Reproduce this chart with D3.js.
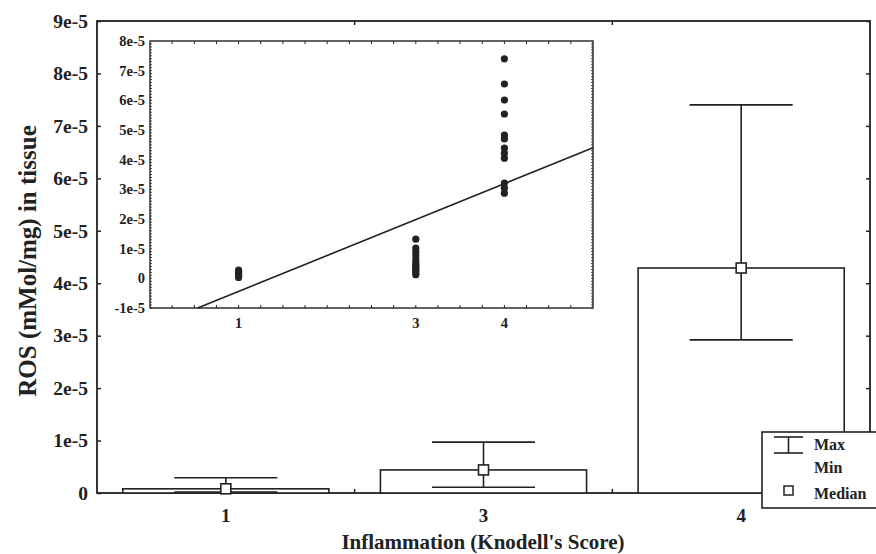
<!DOCTYPE html>
<html lang="en">
<head>
  <meta charset="UTF-8" />
  <title>ROS in tissue by Knodell's Score</title>
  <script src="https://cdn.jsdelivr.net/npm/d3@7"></script>
  <style>
    body {
      margin: 0;
      background-color: white;
    }

    svg {
      display: block;
      font-family: "Liberation Serif", "DejaVu Serif", serif;
      font-weight: bold;
    }
  </style>
</head>
<body>
  <div id="chart"></div>

  <script>
    // main chart: median / max / min per score
    const scores = ["1", "3", "4"];
    const medians = [0.08e-5, 0.44e-5, 4.29e-5];
    const maxes = [0.29e-5, 0.97e-5, 7.4e-5];
    const mins = [0.02e-5, 0.11e-5, 2.92e-5];
    const yTicks = [0, 1e-5, 2e-5, 3e-5, 4e-5, 5e-5, 6e-5, 7e-5, 8e-5, 9e-5];

    // inset: raw points and regression line
    const inset1 = [0.03e-5, 0.08e-5, 0.12e-5, 0.18e-5, 0.22e-5, 0.28e-5];
    const inset3 = [0.12e-5, 0.18e-5, 0.25e-5, 0.3e-5, 0.36e-5, 0.42e-5, 0.46e-5, 0.55e-5, 0.65e-5, 0.78e-5, 0.9e-5, 1.02e-5, 1.32e-5];
    const inset4 = [7.4e-5, 6.55e-5, 6.01e-5, 5.54e-5, 4.83e-5, 4.7e-5, 4.39e-5, 4.22e-5, 4.05e-5, 3.21e-5, 3.04e-5, 2.87e-5];
    const insetXTicks = [1, 3, 4];
    const insetYTicks = [-1e-5, 0, 1e-5, 2e-5, 3e-5, 4e-5, 5e-5, 6e-5, 7e-5, 8e-5];
    const fitIntercept = -1.65e-5;
    const fitSlope = 1.21e-5;

    const width = 876;
    const height = 554;
    const ink = "#222";

    const fmt = v => Math.abs(v) < 1e-12 ? "0" : `${Math.round(v * 1e5)}e-5`;

    const svg = d3.select("#chart")
      .append("svg")
      .attr("width", width)
      .attr("height", height);

    const margin = { left: 97, right: 870, top: 21, bottom: 493 };

    const x = d3.scaleBand()
      .domain(scores)
      .range([margin.left, margin.right])
      .paddingInner(0.2)
      .paddingOuter(0.1);

    const y = d3.scaleLinear()
      .domain([0, 9e-5])
      .range([margin.bottom, margin.top]);

    // plot frame
    svg.append("rect")
      .attr("x", margin.left)
      .attr("y", margin.top)
      .attr("width", margin.right - margin.left)
      .attr("height", margin.bottom - margin.top)
      .attr("fill", "none")
      .attr("stroke", ink)
      .attr("stroke-width", 1.8);

    const yAxis = svg.append("g")
      .attr("transform", `translate(${margin.left},0)`)
      .call(d3.axisLeft(y).tickValues(yTicks).tickFormat(fmt).tickSizeInner(-4).tickSizeOuter(0).tickPadding(9));
    yAxis.select(".domain").remove();
    yAxis.selectAll("text").attr("font-size", 19.5).attr("fill", ink)
      .attr("font-family", "Liberation Serif").attr("font-weight", "bold");
    yAxis.selectAll("line").attr("stroke", ink).attr("stroke-width", 1.5);

    const yAxisR = svg.append("g")
      .attr("transform", `translate(${margin.right},0)`)
      .call(d3.axisRight(y).tickValues(yTicks).tickFormat("").tickSizeInner(-4).tickSizeOuter(0));
    yAxisR.select(".domain").remove();
    yAxisR.selectAll("line").attr("stroke", ink).attr("stroke-width", 1.5);

    // x ticks at the boundaries between bands
    const bounds = scores.slice(1).map(s => x(s) - x.step() * x.paddingInner() / 2);
    svg.selectAll(".xb")
      .data(bounds)
      .enter()
      .append("line")
      .attr("x1", d => d).attr("x2", d => d)
      .attr("y1", margin.bottom).attr("y2", margin.bottom - 4)
      .attr("stroke", ink).attr("stroke-width", 1.5);
    svg.selectAll(".xt")
      .data(bounds)
      .enter()
      .append("line")
      .attr("x1", d => d).attr("x2", d => d)
      .attr("y1", margin.top).attr("y2", margin.top + 4)
      .attr("stroke", ink).attr("stroke-width", 1.5);

    svg.selectAll(".xlab")
      .data(scores)
      .enter()
      .append("text")
      .attr("x", d => x(d) + x.bandwidth() / 2)
      .attr("y", 522)
      .attr("text-anchor", "middle")
      .attr("font-size", 19)
      .attr("fill", ink)
      .text(d => d);

    // bars
    const rows = scores.map((s, i) => ({ s, med: medians[i], max: maxes[i], min: mins[i] }));

    svg.selectAll(".bar")
      .data(rows)
      .enter()
      .append("rect")
      .attr("x", d => x(d.s))
      .attr("y", d => y(d.med))
      .attr("width", x.bandwidth())
      .attr("height", d => y(0) - y(d.med))
      .attr("fill", "white")
      .attr("stroke", ink)
      .attr("stroke-width", 1.6);

    const whisk = svg.selectAll(".whisk")
      .data(rows)
      .enter()
      .append("g");
    const cx = d => x(d.s) + x.bandwidth() / 2;
    const half = x.bandwidth() / 4;
    whisk.append("line")
      .attr("x1", cx).attr("x2", cx)
      .attr("y1", d => y(d.max)).attr("y2", d => y(d.min))
      .attr("stroke", ink).attr("stroke-width", 1.6);
    whisk.append("line")
      .attr("x1", d => cx(d) - half).attr("x2", d => cx(d) + half)
      .attr("y1", d => y(d.max)).attr("y2", d => y(d.max))
      .attr("stroke", ink).attr("stroke-width", 1.6);
    whisk.append("line")
      .attr("x1", d => cx(d) - half).attr("x2", d => cx(d) + half)
      .attr("y1", d => y(d.min)).attr("y2", d => y(d.min))
      .attr("stroke", ink).attr("stroke-width", 1.6);
    whisk.append("rect")
      .attr("x", d => cx(d) - 5)
      .attr("y", d => y(d.med) - 5)
      .attr("width", 10)
      .attr("height", 10)
      .attr("fill", "white")
      .attr("stroke", ink)
      .attr("stroke-width", 1.6);

    // axis titles
    svg.append("text")
      .attr("transform", "translate(36, 261) rotate(-90)")
      .attr("text-anchor", "middle")
      .attr("font-size", 25)
      .attr("fill", ink)
      .text("ROS (mMol/mg) in tissue");

    svg.append("text")
      .attr("x", 483)
      .attr("y", 549)
      .attr("text-anchor", "middle")
      .attr("font-size", 21)
      .attr("fill", ink)
      .text("Inflammation (Knodell's Score)");

    // inset scatter
    const ix = d3.scaleLinear().domain([0, 5]).range([150, 593]);
    const iy = d3.scaleLinear().domain([-1e-5, 8e-5]).range([308, 41]);
    const inset = svg.append("g");

    inset.append("rect")
      .attr("x", ix(0)).attr("y", iy(8e-5))
      .attr("width", ix(5) - ix(0))
      .attr("height", iy(-1e-5) - iy(8e-5))
      .attr("fill", "white")
      .attr("stroke", ink)
      .attr("stroke-width", 1.4);

    const minorX = d3.range(0.25, 5, 0.25);
    inset.selectAll(".mxb")
      .data(minorX)
      .enter()
      .append("line")
      .attr("x1", d => ix(d)).attr("x2", d => ix(d))
      .attr("y1", iy(-1e-5)).attr("y2", iy(-1e-5) - 3)
      .attr("stroke", ink);
    inset.selectAll(".mxt")
      .data(minorX)
      .enter()
      .append("line")
      .attr("x1", d => ix(d)).attr("x2", d => ix(d))
      .attr("y1", iy(8e-5)).attr("y2", iy(8e-5) + 3)
      .attr("stroke", ink);

    const minorY = d3.range(-10, 80, 1).map(v => v * 1e-6);
    inset.selectAll(".myl")
      .data(minorY)
      .enter()
      .append("line")
      .attr("x1", ix(0)).attr("x2", ix(0) + 2)
      .attr("y1", d => iy(d)).attr("y2", d => iy(d))
      .attr("stroke", ink).attr("stroke-width", 0.8);
    inset.selectAll(".myr")
      .data(minorY)
      .enter()
      .append("line")
      .attr("x1", ix(5)).attr("x2", ix(5) - 2)
      .attr("y1", d => iy(d)).attr("y2", d => iy(d))
      .attr("stroke", ink).attr("stroke-width", 0.8);

    inset.selectAll(".iyl")
      .data(insetYTicks)
      .enter()
      .append("text")
      .attr("x", ix(0) - 5)
      .attr("y", d => iy(d))
      .attr("dy", "0.35em")
      .attr("text-anchor", "end")
      .attr("font-size", 14.5)
      .attr("fill", ink)
      .text(fmt);

    inset.selectAll(".ixl")
      .data(insetXTicks)
      .enter()
      .append("text")
      .attr("x", d => ix(d))
      .attr("y", 328)
      .attr("text-anchor", "middle")
      .attr("font-size", 14.5)
      .attr("fill", ink)
      .text(d => d);

    // regression line, clipped to the inset box
    const uStart = (-1e-5 - fitIntercept) / fitSlope;
    inset.append("line")
      .attr("x1", ix(uStart)).attr("y1", iy(-1e-5))
      .attr("x2", ix(5)).attr("y2", iy(fitIntercept + fitSlope * 5))
      .attr("stroke", ink)
      .attr("stroke-width", 1.6);

    const pts = [].concat(
      inset1.map(v => [1, v]),
      inset3.map(v => [3, v]),
      inset4.map(v => [4, v])
    );
    inset.selectAll(".dot")
      .data(pts)
      .enter()
      .append("circle")
      .attr("cx", d => ix(d[0]))
      .attr("cy", d => iy(d[1]))
      .attr("r", 3.6)
      .attr("fill", ink);

    // legend
    const legend = svg.append("g").attr("transform", "translate(762, 432)");
    legend.append("rect")
      .attr("x", 0).attr("y", 0)
      .attr("width", 130).attr("height", 76)
      .attr("fill", "white")
      .attr("stroke", ink)
      .attr("stroke-width", 1.6);
    legend.append("line").attr("x1", 12).attr("x2", 41).attr("y1", 5).attr("y2", 5)
      .attr("stroke", ink).attr("stroke-width", 1.6);
    legend.append("line").attr("x1", 12).attr("x2", 41).attr("y1", 21).attr("y2", 21)
      .attr("stroke", ink).attr("stroke-width", 1.6);
    legend.append("line").attr("x1", 26.5).attr("x2", 26.5).attr("y1", 5).attr("y2", 21)
      .attr("stroke", ink).attr("stroke-width", 1.6);
    legend.append("rect").attr("x", 22).attr("y", 54).attr("width", 9).attr("height", 9)
      .attr("fill", "white").attr("stroke", ink).attr("stroke-width", 1.5);

    const legendText = ["Max", "Min", "Median"];
    legend.selectAll(".lt")
      .data(legendText)
      .enter()
      .append("text")
      .attr("x", 52)
      .attr("y", (d, i) => [18, 41, 67][i])
      .attr("font-size", 16)
      .attr("fill", ink)
      .text(d => d);
  </script>
</body>
</html>
